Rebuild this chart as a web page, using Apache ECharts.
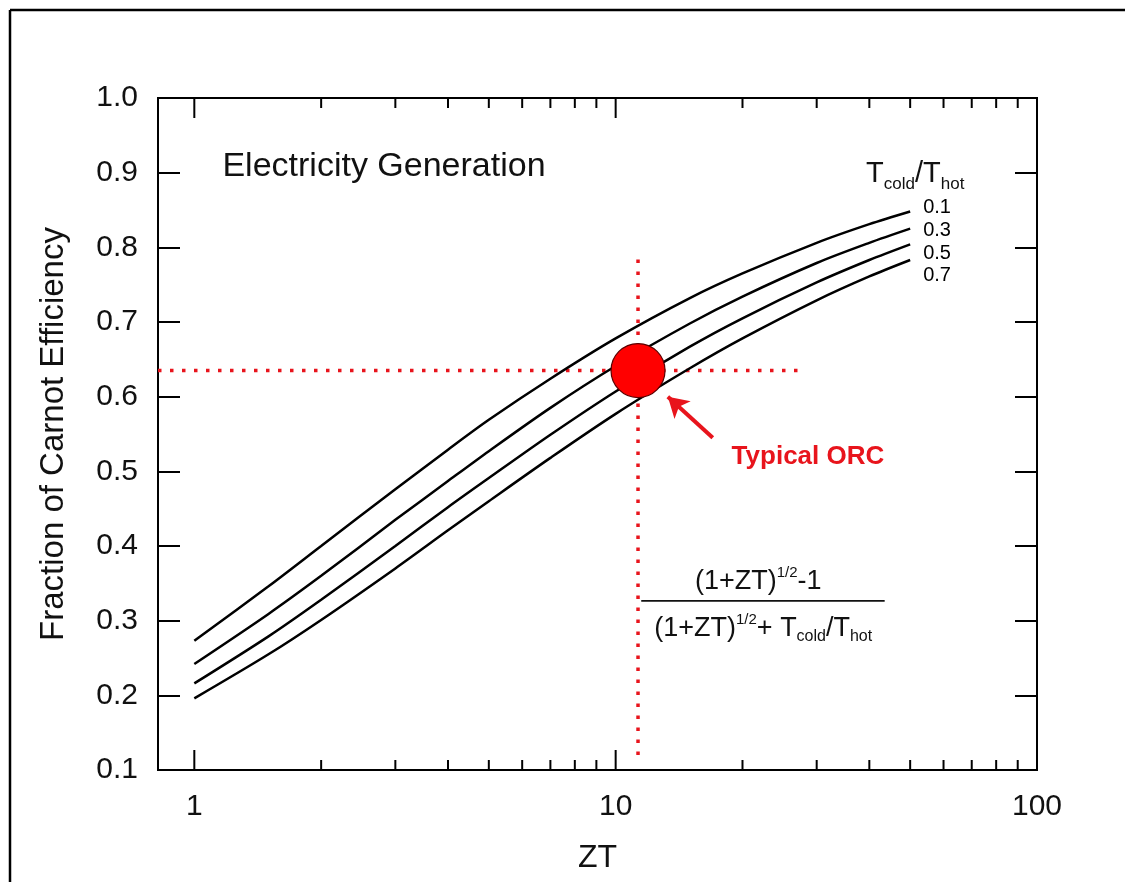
<!DOCTYPE html>
<html>
<head>
<meta charset="utf-8">
<script src="https://cdn.jsdelivr.net/npm/echarts@6/dist/echarts.min.js"></script>
<style>html,body{margin:0;padding:0;background:#fff;}#chart{width:1125px;height:882px;}</style>
</head>
<body>
<div id="chart"></div>
<script>
// ---- data ----
const ztValues = [1, 1.5, 2, 3, 4, 5, 7, 10, 15, 20, 30, 40, 50];
const ratioLabels = ['0.1', '0.3', '0.5', '0.7'];
const eff01 = [0.273, 0.346, 0.400, 0.476, 0.529, 0.569, 0.624, 0.678, 0.732, 0.765, 0.806, 0.831, 0.848];
const eff03 = [0.242, 0.309, 0.360, 0.435, 0.487, 0.527, 0.585, 0.641, 0.698, 0.734, 0.779, 0.806, 0.825];
const eff05 = [0.216, 0.279, 0.328, 0.400, 0.452, 0.491, 0.549, 0.607, 0.667, 0.705, 0.753, 0.783, 0.804];
const eff07 = [0.196, 0.255, 0.301, 0.370, 0.421, 0.460, 0.518, 0.577, 0.638, 0.678, 0.729, 0.761, 0.783];
const xMajorTicks = [1, 10, 100];
const xMinorTicks = [2, 3, 4, 5, 6, 7, 8, 9, 20, 30, 40, 50, 60, 70, 80, 90];
const orcPoint = [11.3, 0.635];
const orcVerticalGuide = [[11.3, 0.12], [11.3, 0.786]];
const orcHorizontalGuide = [[0.82, 0.635], [28.3, 0.635]];
const orcArrow = [[17.0, 0.545], [13.3, 0.600]];
const formulaBar = [[11.5, 0.3265], [43.5, 0.3265]];

const FONT = '"Liberation Sans", Arial, Helvetica, sans-serif';
const effSeries = [eff01, eff03, eff05, eff07];
const endOffsets = [[5, -4], [5, 2], [5, 9], [5, 15]];

const chart = echarts.init(document.getElementById('chart'));

const series = effSeries.map((arr, i) => ({
  type: 'line',
  name: ratioLabels[i],
  data: ztValues.map((z, j) => [z, arr[j]]),
  smooth: 0.3,
  symbol: 'none',
  silent: true,
  lineStyle: { color: '#000', width: 2.5 },
  endLabel: {
    show: true,
    formatter: ratioLabels[i],
    color: '#000',
    fontFamily: FONT,
    fontSize: 20,
    offset: endOffsets[i]
  },
  z: 3
}));

// guide lines and arrow
series.push({
  type: 'line', data: orcVerticalGuide, symbol: 'none', silent: true,
  lineStyle: { color: '#e8141c', width: 3.5, type: [3.5, 8.5] }, z: 2
});
series.push({
  type: 'line', data: orcHorizontalGuide, symbol: 'none', silent: true,
  lineStyle: { color: '#e8141c', width: 3.5, type: [3.5, 8.5] }, z: 2
});
series.push({
  type: 'line', data: orcArrow, symbol: 'none', silent: true,
  lineStyle: { width: 0 },
  markLine: {
    silent: true,
    symbol: ['none', 'arrow'],
    symbolSize: [18, 20],
    label: { show: false },
    lineStyle: { color: '#e8141c', width: 4, type: 'solid' },
    data: [[{ coord: orcArrow[0] }, { coord: orcArrow[1] }]]
  }
});
// fraction bar
series.push({
  type: 'line', data: formulaBar, symbol: 'none', silent: true,
  lineStyle: { color: '#111', width: 1.6 }
});
// red dot
series.push({
  type: 'scatter', data: [orcPoint], symbolSize: 54, silent: true,
  itemStyle: { color: '#ff0000', borderColor: '#5a0000', borderWidth: 1.2, opacity: 1 }, z: 5
});
// minor/major x ticks on bottom and top
series.push({
  type: 'custom',
  silent: true,
  clip: false,
  data: xMajorTicks.map(v => [v, 1]).concat(xMinorTicks.map(v => [v, 0])),
  renderItem: function (params, api) {
    const v = api.value(0);
    const major = api.value(1) === 1;
    const b = api.coord([v, 0.1]);
    const t = api.coord([v, 1.0]);
    const len = major ? 20 : 10;
    return {
      type: 'group',
      children: [
        { type: 'line', shape: { x1: b[0], y1: b[1], x2: b[0], y2: b[1] - len }, style: { stroke: '#000', lineWidth: 2 } },
        { type: 'line', shape: { x1: t[0], y1: t[1], x2: t[0], y2: t[1] + len }, style: { stroke: '#000', lineWidth: 2 } }
      ]
    };
  }
});
// text annotations
const annot = (pos, label) => ({ value: pos, label: Object.assign({ show: true, fontFamily: FONT, color: '#111', opacity: 1 }, label) });
series.push({
  type: 'scatter',
  symbolSize: 0,
  silent: true,
  z: 6,
  itemStyle: { opacity: 1 },
  data: [
    annot([1.166, 0.908], { position: 'right', distance: 0, formatter: 'Electricity Generation', fontSize: 34 }),
    annot([28.6, 0.5196], { position: 'inside', formatter: 'Typical ORC', fontSize: 26, fontWeight: 'bold', color: '#e8141c' }),
    annot([39.3, 0.8976], {
      position: 'right', distance: 0,
      formatter: '{m|T}{s|cold}{m|/T}{s|hot}',
      rich: {
        m: { fontSize: 29, fontFamily: FONT, color: '#111', lineHeight: 36 },
        s: { fontSize: 17, fontFamily: FONT, color: '#111', verticalAlign: 'bottom', lineHeight: 15 }
      }
    }),
    annot([21.8, 0.352], {
      position: 'inside',
      formatter: '{m|(1+ZT)}{p|1/2}{m|-1}',
      rich: {
        m: { fontSize: 27, fontFamily: FONT, color: '#111', lineHeight: 32 },
        p: { fontSize: 15, fontFamily: FONT, color: '#111', verticalAlign: 'top', lineHeight: 15 }
      }
    }),
    annot([22.4, 0.290], {
      position: 'inside',
      formatter: '{m|(1+ZT)}{p|1/2}{m|+ T}{s|cold}{m|/T}{s|hot}',
      rich: {
        m: { fontSize: 27, fontFamily: FONT, color: '#111', lineHeight: 32 },
        p: { fontSize: 15, fontFamily: FONT, color: '#111', verticalAlign: 'top', lineHeight: 15 },
        s: { fontSize: 16, fontFamily: FONT, color: '#111', verticalAlign: 'bottom', lineHeight: 13 }
      }
    })
  ]
});

const option = {
  backgroundColor: '#fff',
  animation: false,
  textStyle: { fontFamily: FONT },
  grid: { left: 158, right: 88, top: 98, bottom: 112, show: true, borderColor: '#000', borderWidth: 2, backgroundColor: 'transparent' },
  xAxis: [{
    type: 'log',
    logBase: 10,
    min: 0.82,
    max: 100,
    name: 'ZT',
    nameLocation: 'middle',
    nameGap: 72,
    nameTextStyle: { fontSize: 32, color: '#111', fontFamily: FONT },
    axisLine: { show: true, lineStyle: { color: '#000', width: 2 } },
    axisTick: { show: false },
    minorTick: { show: false },
    splitLine: { show: false },
    axisLabel: {
      customValues: xMajorTicks,
      formatter: v => String(Math.round(v)),
      fontSize: 30, color: '#111', fontFamily: FONT, margin: 22
    }
  }],
  yAxis: [{
    type: 'value',
    min: 0.1,
    max: 1.0,
    interval: 0.1,
    name: 'Fraction of Carnot Efficiency',
    nameLocation: 'middle',
    nameGap: 88,
    nameRotate: 90,
    nameTextStyle: { fontSize: 33, color: '#111', fontFamily: FONT },
    axisLine: { show: true, lineStyle: { color: '#000', width: 2 } },
    axisTick: { show: true, inside: true, length: 22, lineStyle: { color: '#000', width: 2 } },
    splitLine: { show: false },
    axisLabel: { formatter: v => v.toFixed(1), fontSize: 30, color: '#111', fontFamily: FONT, margin: 20 }
  }, {
    type: 'value',
    position: 'right',
    min: 0.1,
    max: 1.0,
    interval: 0.1,
    axisLine: { show: true, lineStyle: { color: '#000', width: 2 } },
    axisTick: { show: true, inside: true, length: 22, lineStyle: { color: '#000', width: 2 } },
    splitLine: { show: false },
    axisLabel: { show: false }
  }],
  graphic: [
    { type: 'line', shape: { x1: 10, y1: 10, x2: 1125, y2: 10 }, style: { stroke: '#000', lineWidth: 2.5 } },
    { type: 'line', shape: { x1: 10, y1: 10, x2: 10, y2: 882 }, style: { stroke: '#000', lineWidth: 2.5 } }
  ],
  series: series
};
chart.setOption(option);
</script>
</body>
</html>
